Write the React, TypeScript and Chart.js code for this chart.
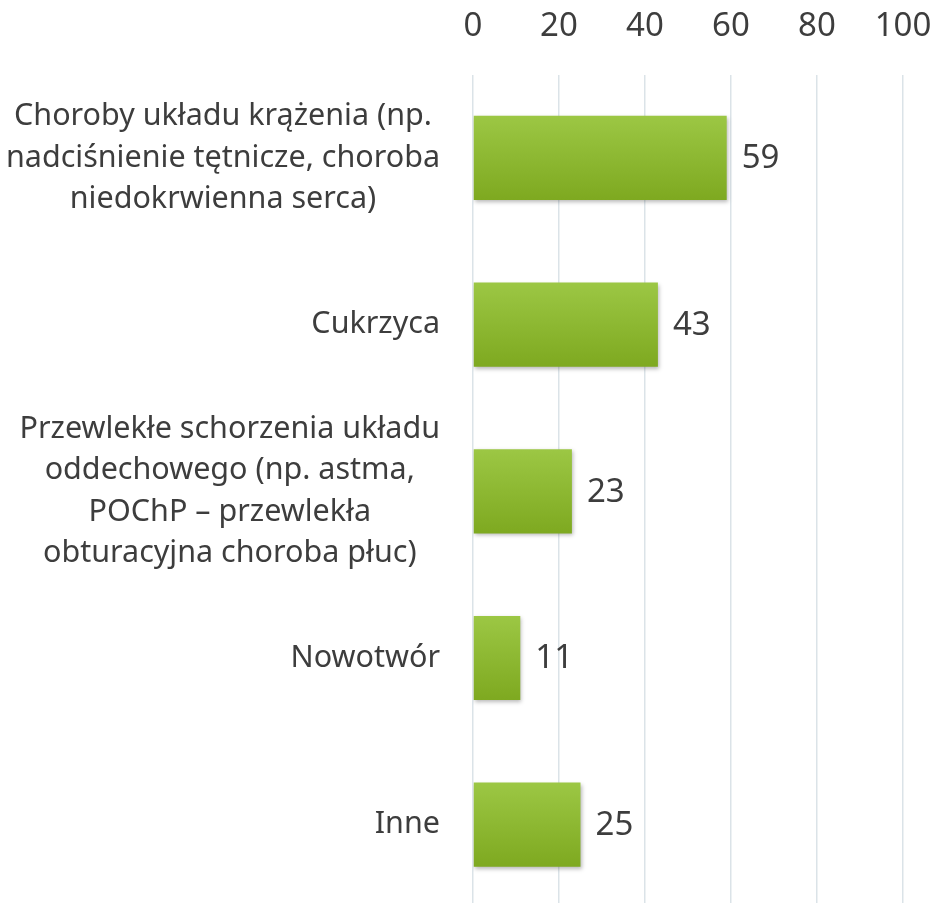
import React, { useEffect, useRef } from 'react';
import { Chart, registerables } from 'chart.js';

Chart.register(...registerables);

const categories: string[][] = [
  ['Choroby układu krążenia (np.', 'nadciśnienie tętnicze, choroba', 'niedokrwienna serca)'],
  ['Cukrzyca'],
  ['Przewlekłe schorzenia układu', 'oddechowego (np. astma,', 'POChP – przewlekła', 'obturacyjna choroba płuc)'],
  ['Nowotwór'],
  ['Inne'],
];
const values: number[] = [59, 43, 23, 11, 25];
const xMin = 0;
const xMax = 100;
const xStep = 20;

const FONT = '"Noto Sans", "Open Sans", sans-serif';
const CAT_FS = 30.5;
const NUM_FS = 33;
const LH = 41.5;
const TEXT = '#3d3d3d';
const GRID = '#dbe3e8';

const catLabelPlugin = {
  id: 'catLabels',
  afterDraw(chart: any) {
    const ctx = chart.ctx;
    const ys = chart.scales.y;
    const left = chart.chartArea.left;
    ctx.save();
    ctx.font = `${CAT_FS}px ${FONT}`;
    ctx.fillStyle = TEXT;
    ctx.textBaseline = 'middle';
    ctx.textAlign = 'center';
    categories.forEach((lines, i) => {
      const cy = ys.getPixelForValue(i);
      const w = Math.max(...lines.map((l) => ctx.measureText(l).width));
      const cx = left - 33 - w / 2;
      lines.forEach((l, j) => {
        ctx.fillText(l, cx, cy + (j - (lines.length - 1) / 2) * LH);
      });
    });
    ctx.restore();
  },
};

const valueLabelPlugin = {
  id: 'valueLabels',
  afterDatasetsDraw(chart: any) {
    const ctx = chart.ctx;
    const meta = chart.getDatasetMeta(0);
    ctx.save();
    ctx.font = `${NUM_FS}px ${FONT}`;
    ctx.fillStyle = TEXT;
    ctx.textBaseline = 'middle';
    ctx.textAlign = 'left';
    meta.data.forEach((bar: any, i: number) => {
      ctx.fillText(String(values[i]), bar.x + 15, bar.y + 1);
    });
    ctx.restore();
  },
};

const shadowPlugin = {
  id: 'barShadow',
  beforeDatasetDraw(chart: any) {
    const ctx = chart.ctx;
    ctx.save();
    ctx.shadowColor = 'rgba(0,0,0,0.28)';
    ctx.shadowBlur = 4;
    ctx.shadowOffsetX = 1;
    ctx.shadowOffsetY = 2;
  },
  afterDatasetDraw(chart: any) {
    chart.ctx.restore();
  },
};

export default function App() {
  const ref = useRef<HTMLCanvasElement | null>(null);
  useEffect(() => {
    if (!ref.current) return;
    const chart = new Chart(ref.current, {
      type: 'bar',
      data: {
        labels: categories.map((c) => c.join(' ')),
        datasets: [
          {
            data: values,
            backgroundColor: (c: any) => {
              const ys = c.chart.scales?.y;
              if (!ys || c.dataIndex === undefined) return '#8fb832';
              const cy = ys.getPixelForValue(c.dataIndex);
              if (!Number.isFinite(cy)) return '#8fb832';
              const g = c.chart.ctx.createLinearGradient(0, cy - 42, 0, cy + 42);
              g.addColorStop(0, '#9cc744');
              g.addColorStop(1, '#7ea920');
              return g;
            },
            borderWidth: 0,
            barPercentage: 0.505,
            categoryPercentage: 1,
          },
        ],
      },
      options: {
        indexAxis: 'y',
        responsive: false,
        animation: false,
        layout: { autoPadding: false, padding: { left: 473, right: 33, top: 0, bottom: 0 } },
        plugins: { legend: { display: false }, tooltip: { enabled: false } },
        scales: {
          x: {
            position: 'top',
            min: xMin,
            max: xMax,
            afterFit: (s: any) => {
              s.paddingLeft = 0;
              s.paddingRight = 0;
            },
            ticks: {
              stepSize: xStep,
              color: TEXT,
              font: { family: FONT, size: NUM_FS },
              padding: 28,
            },
            grid: { color: GRID, lineWidth: 1.5, drawTicks: false },
            border: { display: false },
          },
          y: {
            display: false,
            ticks: { display: false },
            grid: { display: false, drawTicks: false },
            border: { display: false },
          },
        },
      },
      plugins: [shadowPlugin, valueLabelPlugin, catLabelPlugin],
    });
    return () => chart.destroy();
  }, []);
  return (
    <div style={{ position: 'fixed', left: 0, top: -21, width: 936, height: 929, background: '#fff' }}>
      <canvas ref={ref} width={936} height={929} style={{ display: 'block' }} />
    </div>
  );
}
